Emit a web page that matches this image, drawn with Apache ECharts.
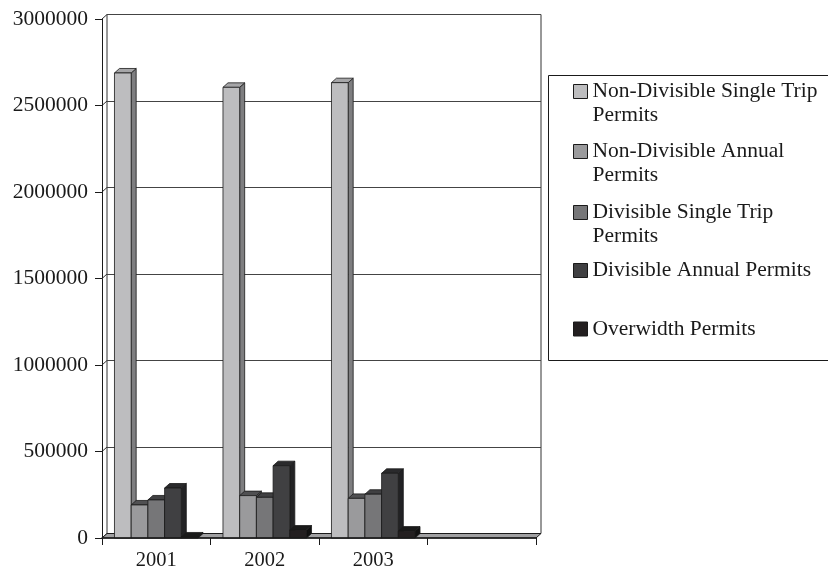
<!DOCTYPE html>
<html>
<head>
<meta charset="utf-8">
<script src="https://cdn.jsdelivr.net/npm/echarts@6/dist/echarts.min.js"></script>
<style>
html, body { margin: 0; padding: 0; background: #fff; }
#chart { width: 828px; height: 572px; }
</style>
</head>
<body>
<div id="chart"></div>
<script>
// categories (the last slot is left empty in the original)
var years = ['2001', '2002', '2003', ''];

var nonDivSingleTrip = [2688000, 2605000, 2632000];
var nonDivAnnual     = [191000, 245000, 229000];
var divSingleTrip    = [220000, 235000, 253000];
var divAnnual        = [289000, 418000, 374000];
var overwidth        = [6000, 46000, 40000];

var yTicks = [0, 500000, 1000000, 1500000, 2000000, 2500000, 3000000];

var seriesNames = [
    'Non-Divisible Single Trip\nPermits',
    'Non-Divisible Annual\nPermits',
    'Divisible Single Trip\nPermits',
    'Divisible Annual Permits',
    'Overwidth Permits'
];
var seriesValues = [nonDivSingleTrip, nonDivAnnual, divSingleTrip, divAnnual, overwidth];

var frontCol = ['#bdbdbf', '#9a9a9c', '#767678', '#404042', '#231f20'];
var sideCol  = ['#7e7e80', '#5e5e60', '#4a4a4c', '#222224', '#111'];
var capCol   = ['#a6a6a8', '#505052', '#404042', '#2a2a2c', '#1a1a1a'];

var FONT = 'Liberation Serif, Times New Roman, serif';
var DX = 5, DY = 4.5;          // depth of the 3d look
var L = 102, R = 292, T = 19, B = 34;   // front grid

var chart = echarts.init(document.getElementById('chart'));

function barRenderer(si) {
    return function (params, api) {
        var cat = api.value(0);
        var base = api.coord([cat, 0]);
        var top = api.coord([cat, api.value(1)]);
        var band = api.size([1, 0])[0];
        var bw = band * 0.154;
        var x0 = base[0] - 2.5 * bw + si * bw;
        var x1 = x0 + bw;
        var yT = top[1], yB = base[1];
        var edge = { stroke: '#1a1a1a', lineWidth: 0.8 };
        return {
            type: 'group',
            children: [
                { type: 'polygon', shape: { points: [[x1, yT], [x1 + DX, yT - DY], [x1 + DX, yB - DY], [x1, yB]] },
                  style: Object.assign({ fill: sideCol[si] }, edge) },
                { type: 'polygon', shape: { points: [[x0, yT], [x0 + DX, yT - DY], [x1 + DX, yT - DY], [x1, yT]] },
                  style: Object.assign({ fill: capCol[si] }, edge) },
                { type: 'rect', shape: { x: x0, y: yT, width: bw, height: yB - yT },
                  style: Object.assign({ fill: frontCol[si] }, edge) }
            ]
        };
    };
}

var series = seriesValues.map(function (vals, si) {
    return {
        name: seriesNames[si],
        type: 'custom',
        xAxisIndex: 0,
        yAxisIndex: 0,
        z: 5,
        itemStyle: { color: frontCol[si] },
        encode: { x: 0, y: 1 },
        renderItem: barRenderer(si),
        data: vals.map(function (v, i) { return [i, v]; })
    };
});

// one legend per item so the icon sits on the first text line
var LH = 24;
var iconCenters = [91.5, 151.5, 212.5, 270.5, 329];
var legends = seriesNames.map(function (n, i) {
    var twoLine = n.indexOf('\n') >= 0;
    return {
        data: [n],
        orient: 'vertical',
        left: 573,
        top: twoLine ? iconCenters[i] - 1.5 * LH : iconCenters[i] - LH / 2,
        padding: 0,
        icon: 'rect',
        itemWidth: 14,
        itemHeight: 14,
        selectedMode: false,
        itemStyle: { borderColor: '#1a1a1a', borderWidth: 1 },
        formatter: function (name) { return name.indexOf('\n') >= 0 ? ' \n' + name : name; },
        textStyle: { fontFamily: FONT, fontSize: 21.5, color: '#1a1a1a', lineHeight: LH }
    };
});

var option = {
    animation: false,
    backgroundColor: '#fff',
    grid: [
        { left: L, right: R, top: T, bottom: B },
        { left: L + DX, right: R - DX, top: T - DY, bottom: B + DY, show: true,
          borderColor: '#333', borderWidth: 1, backgroundColor: 'transparent' }
    ],
    legend: legends,
    xAxis: [
        { type: 'category', gridIndex: 0, data: years, z: 6,
          axisLine: { lineStyle: { color: '#1a1a1a', width: 1.5 } },
          axisTick: { show: true, length: 7, lineStyle: { color: '#1a1a1a' } },
          axisLabel: { fontFamily: FONT, fontSize: 20.5, color: '#1a1a1a', margin: 12 } },
        { type: 'category', gridIndex: 1, data: years,
          axisLine: { show: false }, axisTick: { show: false }, axisLabel: { show: false } }
    ],
    yAxis: [
        { type: 'value', gridIndex: 0, min: 0, max: 3000000, interval: 500000, z: 6,
          axisLine: { show: true, lineStyle: { color: '#1a1a1a' } },
          axisTick: { show: true, length: 7, lineStyle: { color: '#1a1a1a' } },
          axisLabel: { fontFamily: FONT, fontSize: 21.5, color: '#1a1a1a', margin: 14,
                       formatter: function (v) { return String(v); } },
          splitLine: { show: false } },
        { type: 'value', gridIndex: 1, min: 0, max: 3000000, interval: 500000,
          axisLine: { show: false }, axisTick: { show: false }, axisLabel: { show: false },
          splitLine: { show: true, lineStyle: { color: '#444', width: 1 } } }
    ],
    series: series
};
chart.setOption(option);

// walls, floor and legend frame
var graphics = [];
yTicks.forEach(function (t) {
    var y = chart.convertToPixel({ yAxisIndex: 0 }, t);
    graphics.push({ type: 'line', z: 1, shape: { x1: L, y1: y, x2: L + DX, y2: y - DY },
        style: { stroke: '#333', lineWidth: 1 } });
});
var yb = chart.convertToPixel({ yAxisIndex: 0 }, 0);
var xr = 828 - R;
graphics.push({ type: 'polygon', z: 2,
    shape: { points: [[L, yb], [L + DX, yb - DY], [xr + DX, yb - DY], [xr, yb]] },
    style: { fill: '#a0a0a2', stroke: '#1a1a1a', lineWidth: 1 } });
graphics.push({ type: 'rect', z: 0, shape: { x: 548.5, y: 75.5, width: 290, height: 285 },
    style: { fill: 'transparent', stroke: '#1a1a1a', lineWidth: 1 } });
chart.setOption({ graphic: graphics });
</script>
</body>
</html>
